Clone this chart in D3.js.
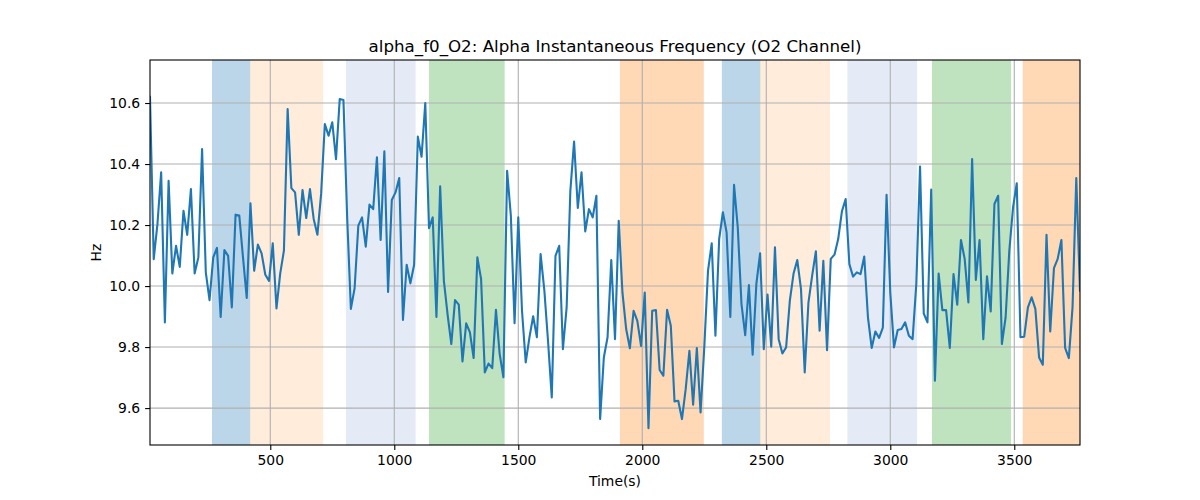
<!DOCTYPE html>
<html>
<head>
<meta charset="utf-8">
<script src="https://cdn.jsdelivr.net/npm/d3@7"></script>
<style>
  body { margin: 0; background: #fff; }
  svg { display: block; font-family: "DejaVu Sans", sans-serif; }
</style>
</head>
<body>
<svg id="chart" width="1200" height="500"></svg>
<script>
// ---- data ----
const tStart = 15;   // first sample time (s)
const tStep = 15;    // sample spacing (s)
const values = [
  10.62, 10.088, 10.203, 10.373, 9.881, 10.345, 10.041, 10.132, 10.063, 10.247, 10.168, 10.318, 10.041, 10.094, 10.449, 10.045, 9.954, 10.094, 10.125, 9.899, 10.118, 10.099,
  9.930, 10.234, 10.231, 10.094, 9.961, 10.271, 10.050, 10.136, 10.107, 10.037, 10.017, 10.140, 9.927, 10.041, 10.116, 10.580, 10.321, 10.307, 10.168, 10.315, 10.223,
  10.318, 10.220, 10.168, 10.302, 10.531, 10.493, 10.537, 10.416, 10.613, 10.610, 10.225, 9.925, 9.993, 10.198, 10.225, 10.129, 10.267, 10.252, 10.422, 10.151, 10.442,
  9.981, 10.282, 10.307, 10.354, 9.889, 10.070, 10.009, 10.070, 10.490, 10.424, 10.600, 10.190, 10.225, 9.899, 10.327, 10.017, 9.906, 9.810, 9.954, 9.939, 9.753,
  9.878, 9.848, 9.764, 10.094, 10.023, 9.717, 9.746, 9.731, 9.922, 9.777, 9.701, 10.378, 10.231, 9.878, 10.225, 9.919, 9.750, 9.832, 9.901, 9.832, 10.105,
  9.987, 9.819, 9.635, 10.099, 10.132, 9.793, 9.930, 10.313, 10.474, 10.256, 10.373, 10.179, 10.252, 10.225, 10.296, 9.564, 9.766, 9.832, 10.085, 9.826, 10.214,
  9.979, 9.859, 9.796, 9.919, 9.886, 9.804, 9.979, 9.534, 9.919, 9.921, 9.725, 9.706, 9.922, 9.870, 9.622, 9.624, 9.564, 9.662, 9.788, 9.611, 9.797,
  9.586, 9.799, 10.050, 10.140, 9.837, 10.154, 10.242, 10.176, 9.899, 10.332, 10.192, 9.941, 9.839, 10.003, 9.775, 10.007, 10.107, 9.793, 9.972, 9.801, 10.127,
  9.826, 9.779, 9.799, 9.952, 10.041, 10.085, 9.990, 9.717, 9.946, 10.034, 10.114, 9.854, 10.083, 9.790, 10.089, 10.103, 10.154, 10.245, 10.285, 10.072,
  10.031, 10.045, 10.039, 10.097, 9.897, 9.797, 9.851, 9.830, 9.864, 10.299, 9.979, 9.799, 9.856, 9.859, 9.881, 9.837, 9.826, 10.007, 10.392, 9.910, 9.881, 10.316,
  9.690, 10.041, 9.921, 9.921, 9.797, 10.039, 9.939, 10.151, 10.089, 9.946, 10.416, 10.020, 10.151, 9.826, 10.032, 9.917, 10.269, 10.296, 9.810, 9.897,
  10.116, 10.258, 10.337, 9.832, 9.834, 9.930, 9.963, 9.925, 9.766, 9.742, 10.168, 9.851, 10.059, 10.089, 10.151, 9.797, 9.764, 9.932, 10.354, 9.985
];
const times = values.map((v, i) => tStart + i * tStep);

// shaded periods
const bandStarts = [265, 419, 805, 1140, 1910, 2321, 2476, 2827, 3168, 3534];
const bandEnds   = [419, 713, 1086, 1445, 2248, 2476, 2757, 3108, 3487, 3800];
const bandKinds  = ["blue", "peach", "lavender", "green", "orange", "blue", "peach", "lavender", "green", "orange"];

const xTicks = [500, 1000, 1500, 2000, 2500, 3000, 3500];
const yTicks = [9.6, 9.8, 10.0, 10.2, 10.4, 10.6];

const titleText = "alpha_f0_O2: Alpha Instantaneous Frequency (O2 Channel)";
const xLabelText = "Time(s)";
const yLabelText = "Hz";

// ---- styles ----
const bandFill = {
  blue: "rgba(31,119,180,0.3)",
  peach: "rgba(255,127,14,0.15)",
  lavender: "rgba(66,114,196,0.14)",
  green: "rgba(44,160,44,0.3)",
  orange: "rgba(255,127,14,0.3)"
};

const margin = { left: 150, right: 120, top: 60, bottom: 55 };
const W = 1200, H = 500;
const iw = W - margin.left - margin.right;
const ih = H - margin.top - margin.bottom;

const svg = d3.select("#chart");
const x = d3.scaleLinear().domain([times[0], times[times.length - 1]]).range([0, iw]);
const y = d3.scaleLinear().domain([9.479, 10.741]).range([ih, 0]);

const g = svg.append("g").attr("transform", `translate(${margin.left},${margin.top})`);

g.append("defs").append("clipPath").attr("id", "clip")
  .append("rect").attr("width", iw).attr("height", ih);

const plot = g.append("g").attr("clip-path", "url(#clip)");

// bands
plot.selectAll("rect.band")
  .data(bandStarts.map((s, i) => ({ s, e: bandEnds[i], k: bandKinds[i] })))
  .join("rect")
  .attr("class", "band")
  .attr("x", d => x(d.s))
  .attr("width", d => x(d.e) - x(d.s))
  .attr("y", 0)
  .attr("height", ih)
  .attr("fill", d => bandFill[d.k]);

// grid
plot.selectAll("line.vgrid").data(xTicks).join("line")
  .attr("x1", d => x(d)).attr("x2", d => x(d))
  .attr("y1", 0).attr("y2", ih)
  .attr("stroke", "#b0b0b0").attr("stroke-width", 1.1);
plot.selectAll("line.hgrid").data(yTicks).join("line")
  .attr("y1", d => y(d)).attr("y2", d => y(d))
  .attr("x1", 0).attr("x2", iw)
  .attr("stroke", "#b0b0b0").attr("stroke-width", 1.1);

// line
const line = d3.line().x((d, i) => x(times[i])).y(d => y(d));
plot.append("path")
  .datum(values)
  .attr("d", line)
  .attr("fill", "none")
  .attr("stroke", "#1f77b4")
  .attr("stroke-width", 2.1)
  .attr("stroke-linejoin", "round")
  .attr("stroke-linecap", "square");

// axes
const xAxis = d3.axisBottom(x).tickValues(xTicks).tickFormat(d3.format("d")).tickSizeOuter(0).tickSize(4.9).tickPadding(4.9);
const yAxis = d3.axisLeft(y).tickValues(yTicks).tickFormat(d3.format(".1f")).tickSizeOuter(0).tickSize(4.9).tickPadding(4.9);

const gx = g.append("g").attr("transform", `translate(0,${ih})`).call(xAxis);
const gy = g.append("g").call(yAxis);
[gx, gy].forEach(a => {
  a.select(".domain").remove();
  a.selectAll(".tick line").attr("stroke", "#000").attr("stroke-width", 1.1);
  a.selectAll(".tick text").attr("fill", "#000").style("font-size", "13.9px").style("font-family", "DejaVu Sans, sans-serif");
});

// spines
g.append("rect").attr("x", 0).attr("y", 0).attr("width", iw).attr("height", ih)
  .attr("fill", "none").attr("stroke", "#000").attr("stroke-width", 1.1);

// title and labels
svg.append("text")
  .attr("x", margin.left + iw / 2).attr("y", margin.top - 8.5)
  .attr("text-anchor", "middle")
  .style("font-size", "16.7px")
  .text(titleText);

svg.append("text")
  .attr("x", margin.left + iw / 2).attr("y", 486)
  .attr("text-anchor", "middle")
  .style("font-size", "13.9px")
  .text(xLabelText);

svg.append("text")
  .attr("transform", `translate(101,${margin.top + ih / 2}) rotate(-90)`)
  .attr("text-anchor", "middle")
  .style("font-size", "13.9px")
  .text(yLabelText);
</script>
</body>
</html>
